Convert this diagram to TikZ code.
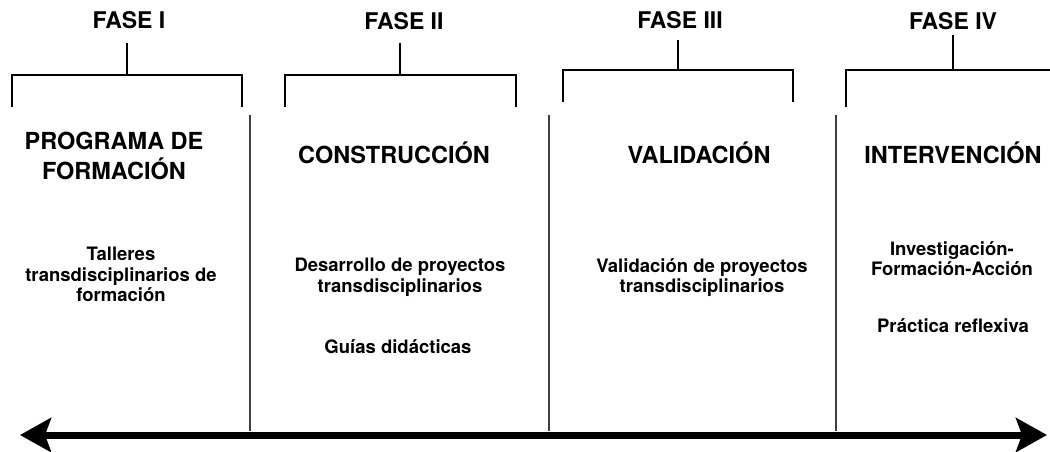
\documentclass[tikz,border=0pt]{standalone}
\usepackage{fontspec}
\setmainfont{TeX Gyre Heros}
\usetikzlibrary{arrows.meta}

\tikzset{
  fase/.style={font=\bfseries\fontsize{23}{25}\selectfont, inner sep=0pt, anchor=base},
  titulo/.style={font=\bfseries\fontsize{23.5}{30}\selectfont, inner sep=0pt, align=center},
  texto/.style={font=\bfseries\fontsize{18.5}{20.5}\selectfont, inner sep=0pt, align=center},
  llave/.style={line width=2.6pt},
  division/.style={line width=1.1pt, black!75},
  eje/.style={line width=7pt, {Stealth[length=31pt,width=34pt,inset=6pt]}-{Stealth[length=31pt,width=34pt,inset=6pt]}}
}

\begin{document}
\begin{tikzpicture}[x=1pt,y=-1pt]
   \useasboundingbox (0,0) rectangle (1050,451);

   % fases
   \node[fase] (f1) at (129,28) {FASE I};
   \node[fase] (f2) at (404,29) {FASE II};
   \node[fase] (f3) at (680,28) {FASE III};
   \node[fase] (f4) at (953,29) {FASE IV};

   % llaves
   \draw[llave] (127,43) -- (127,75);
   \draw[llave] (12,107) -- (12,75) -- (242,75) -- (242,107);
   \draw[llave] (400,43) -- (400,75);
   \draw[llave] (285,107) -- (285,75) -- (516,75) -- (516,107);
   \draw[llave] (678,40) -- (678,70);
   \draw[llave] (563,102) -- (563,70) -- (793,70) -- (793,102);
   \draw[llave] (953,35) -- (953,70);
   \draw[llave] (846,107) -- (846,70) -- (1060,70) -- (1060,107);

   % divisiones
   \foreach \x in {250,549,836}
      \draw[division] (\x,115) -- (\x,431);

   % titulos
   \node[titulo, anchor=north] (t1) at (114,132) {PROGRAMA DE\\FORMACIÓN};
   \node[titulo, anchor=base] (t2) at (394,163) {CONSTRUCCIÓN};
   \node[titulo, anchor=base] (t3) at (699,163) {VALIDACIÓN};
   \node[titulo, anchor=base] (t4) at (953,163) {INTERVENCIÓN};

   % contenidos
   \node[texto, anchor=north] (c1) at (121,247) {Talleres\\transdisciplinarios de\\formación};
   \node[texto, anchor=north] (c2) at (400,258) {Desarrollo de proyectos\\transdisciplinarios};
   \node[texto, anchor=base] (c2b) at (398,353) {Guías didácticas};
   \node[texto, anchor=north] (c3) at (702,258) {Validación de proyectos\\transdisciplinarios};
   \node[texto, anchor=north] (c4) at (952,241) {Investigación-\\Formación-Acción};
   \node[texto, anchor=base] (c4b) at (953,332) {Práctica reflexiva};

   % eje
   \coordinate (izq) at (20,435);
   \coordinate (der) at (1047,435);
   \draw[eje] (izq) -- (der);
\end{tikzpicture}
\end{document}
